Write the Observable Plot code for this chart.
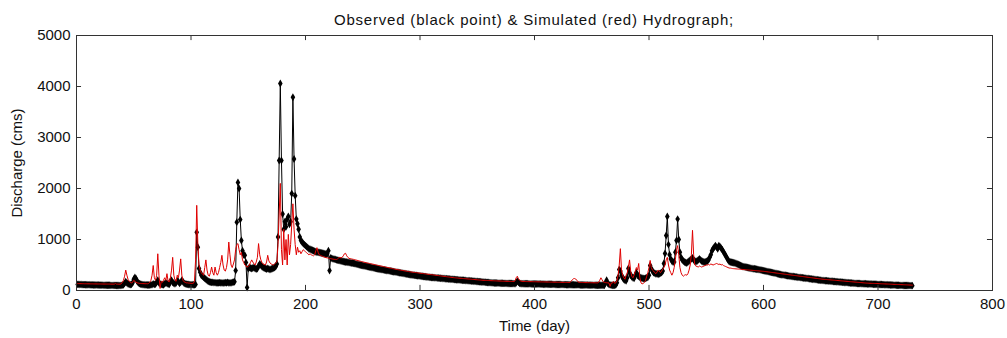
<!DOCTYPE html>
<html><head><meta charset="utf-8">
<script src="https://cdn.jsdelivr.net/npm/d3@7"></script>
<script src="https://cdn.jsdelivr.net/npm/@observablehq/plot@0.6"></script>
<style>
body{margin:0;background:#fff;font-family:"Liberation Sans",Arial,sans-serif;}
#title{width:1007px;height:28px;box-sizing:border-box;padding:11px 15px 0 76px;text-align:center;font-size:15px;line-height:17px;color:#111;white-space:nowrap;letter-spacing:0.8px;}
</style></head><body>
<div id="title">Observed (black point) &amp; Simulated (red) Hydrograph;</div>
<div id="chart"></div>
<script>
const startDay = 1;
const observed = [
120,120,118,117,116,115,115,114,113,112,
112,111,110,110,109,108,108,107,107,106,
106,105,105,104,104,103,103,102,102,101,
101,100,100,100,99,99,98,98,100,105,
110,140,170,150,130,120,115,120,150,220,
255,230,180,150,135,125,120,115,112,110,
110,108,107,106,110,115,130,120,125,160,
200,150,130,120,115,112,130,150,140,125,
120,180,200,160,140,130,150,190,170,140,
160,200,170,140,130,125,120,118,116,115,
115,114,113,120,1140,850,430,360,300,280,
260,240,220,200,180,170,165,160,160,155,
155,150,150,150,155,150,150,148,150,155,
150,160,150,150,150,160,165,170,390,1340,
2120,2000,1390,980,780,700,690,550,60,430,
450,440,430,440,450,430,420,430,480,520,
500,470,450,440,430,420,430,420,410,420,
430,440,450,470,520,1050,2550,4060,2550,1500,
1200,1350,1250,1400,1450,1300,1350,1900,3790,2580,
1860,1400,1310,1200,1050,980,950,920,900,880,
860,840,820,810,800,790,780,770,760,750,
750,745,740,735,730,725,720,710,720,780,
390,640,630,620,615,610,600,595,590,585,
580,575,570,565,560,560,555,550,545,540,
540,534,528,522,516,510,505,500,495,490,
485,480,475,470,465,460,455,450,445,440,
435,430,425,421,417,413,409,405,401,397,
393,389,385,381,377,373,369,365,361,357,
353,349,345,341,337,333,329,325,321,317,
313,309,305,302,299,296,293,290,287,284,
281,278,275,272,269,266,263,260,258,256,
254,252,250,248,246,244,242,240,238,236,
234,232,230,228,226,224,222,220,218,216,
214,212,210,208,206,204,202,200,198,196,
194,192,190,188,186,184,182,180,178,176,
174,172,170,168,166,164,162,160,158,156,
154,152,150,149,148,147,146,145,144,143,
142,141,140,140,139,138,138,137,136,136,
135,135,134,150,180,160,140,135,134,133,
132,132,131,131,130,130,129,129,128,128,
128,127,127,126,126,125,125,124,124,123,
123,122,122,121,121,120,120,119,119,118,
118,117,117,116,116,115,115,114,114,113,
113,112,112,112,111,111,110,110,110,109,
109,108,108,108,107,107,106,106,106,105,
105,105,104,104,104,103,103,103,102,102,
102,150,200,140,120,110,105,103,102,102,
110,150,250,410,380,300,250,220,200,190,
250,430,350,300,270,250,240,300,350,300,
280,260,250,240,235,230,240,250,260,300,
490,430,380,350,340,330,330,320,330,340,
350,380,530,725,1080,1450,900,700,620,580,
560,560,750,980,1400,1000,750,650,600,580,
560,550,540,560,580,600,620,640,600,580,
570,580,600,620,600,580,570,560,560,570,
580,600,650,700,780,820,850,880,850,820,
880,860,830,800,760,720,680,640,600,570,
560,555,550,545,540,530,520,510,500,490,
480,470,465,460,455,450,445,440,435,430,
428,425,422,418,414,410,405,400,395,390,
385,380,375,370,365,360,355,350,345,340,
335,330,325,320,315,310,306,302,298,294,
290,286,282,279,276,273,270,267,264,261,
258,255,252,249,246,243,240,237,234,231,
228,225,222,219,216,213,210,207,204,201,
198,196,194,192,190,188,186,184,182,180,
178,176,174,172,170,168,166,164,162,160,
158,156,154,152,150,148,146,144,142,140,
139,138,137,136,135,134,133,132,131,130,
129,128,127,126,125,124,123,122,121,120,
119,118,117,116,115,114,113,112,111,110,
109,108,107,106,105,104,103,102,101,100,
100,99,99,98,98,97,97,96,96,95
];
const simulated = [
135,135,134,134,133,133,132,132,131,131,
131,130,130,130,129,129,129,128,128,128,
128,127,127,127,127,126,126,126,126,125,
125,125,125,140,125,125,124,124,130,160,
200,280,400,300,220,180,160,150,160,200,
180,160,150,145,140,138,136,135,134,133,
133,132,140,160,200,300,490,250,200,300,
720,300,40,180,160,200,250,200,330,180,
170,250,400,650,300,200,180,300,250,400,
620,300,200,170,160,150,150,145,145,140,
140,140,180,600,1670,900,500,400,350,320,
300,450,600,400,300,280,350,460,350,300,
460,350,300,350,450,550,690,500,400,380,
450,600,950,700,500,450,520,600,800,900,
920,800,700,750,600,550,500,480,460,470,
500,550,600,560,520,500,560,650,920,700,
600,550,520,510,500,560,690,580,540,520,
510,500,520,540,560,900,1500,2100,800,500,
1200,600,1000,500,1100,700,900,1300,1700,1200,
900,700,850,750,780,720,760,800,780,760,
740,720,700,720,700,690,680,700,780,840,
750,700,690,680,670,660,650,645,640,635,
630,625,620,615,612,610,608,620,640,650,
640,650,680,720,730,680,650,630,625,620,
615,610,604,598,592,586,580,574,568,562,
556,550,545,540,535,530,525,520,515,510,
505,500,495,490,485,480,475,470,465,460,
455,450,445,440,435,430,425,420,415,411,
407,403,399,395,391,387,383,379,375,371,
367,364,361,358,355,352,349,346,343,340,
337,334,331,328,325,322,319,316,313,310,
307,304,301,298,295,292,289,286,283,280,
277,274,271,268,265,262,259,256,253,250,
248,246,244,242,240,238,236,234,232,230,
228,226,224,222,220,218,216,214,212,210,
208,206,204,202,200,199,198,197,196,195,
194,193,192,191,190,189,188,187,186,185,
184,183,182,181,180,180,179,178,178,177,
177,176,190,250,280,230,200,185,180,178,
177,176,175,175,174,174,173,173,172,172,
171,171,170,170,169,169,168,168,167,167,
166,166,165,165,164,164,163,163,162,162,
161,161,160,160,159,159,158,158,157,157,
160,180,210,230,235,225,200,170,160,158,
157,156,156,155,155,154,154,153,153,152,
152,151,151,150,150,160,200,250,210,170,
160,155,152,150,148,80,146,145,180,140,
150,200,300,500,820,400,300,250,220,300,
350,450,600,380,280,250,300,380,450,400,
530,250,150,130,140,160,200,280,350,450,
590,450,400,380,350,330,360,400,380,350,
380,420,450,500,600,650,500,400,350,300,
350,450,600,800,880,700,450,350,300,280,
300,310,300,330,400,500,700,1180,700,500,
480,470,460,480,470,460,470,480,490,500,
500,510,500,520,510,500,510,520,530,520,
510,520,500,510,490,480,470,460,450,440,
440,435,430,428,426,424,422,420,418,416,
414,412,410,408,406,404,402,400,398,396,
394,392,390,388,386,384,382,380,378,376,
373,370,367,364,361,358,355,352,349,346,
343,340,337,334,331,328,325,322,319,316,
313,310,307,304,301,298,295,292,289,286,
283,280,277,274,271,268,265,262,259,256,
253,250,247,244,241,238,235,232,229,226,
223,221,219,217,215,213,211,209,207,205,
203,201,199,197,195,193,191,189,187,185,
183,181,179,177,175,173,171,169,167,165,
163,161,159,157,155,153,151,149,147,145,
144,143,142,141,140,139,138,137,136,135,
134,133,132,131,130,129,128,127,126,125,
124,123,122,121,120,119,118,117,116,115,
114,113,112,111,110,109,108,107,106,105
];
const xTicks = [0,100,200,300,400,500,600,700,800];
const yTicks = [0,1000,2000,3000,4000,5000];

const obsData = observed.map((q, i) => ({day: startDay + i, q}));
const simData = simulated.map((q, i) => ({day: startDay + i, q}));

const chart = Plot.plot({
  width: 1007, height: 310,
  marginTop: 7, marginBottom: 48, marginLeft: 76, marginRight: 15,
  style: {fontFamily: "Liberation Sans, Arial, sans-serif", fontSize: "15px", color: "#111", background: "#fff", overflow: "visible"},
  x: {domain: [0, 800]},
  y: {domain: [0, 5000]},
  marks: [
    Plot.axisX(xTicks, {tickSize: 0, tickPadding: 8, tickFormat: d => String(d), label: "Time (day)", labelAnchor: "center", labelArrow: "none", labelOffset: 40}),
    Plot.axisY(yTicks, {tickSize: 0, tickPadding: 6, tickFormat: d => String(d), label: "Discharge (cms)", labelAnchor: "center", labelArrow: "none", labelOffset: 65}),
    Plot.line(obsData, {x: "day", y: "q", stroke: "#000", strokeWidth: 1}),
    Plot.dot(obsData, {x: "day", y: "q", symbol: "diamond", r: 2.4, fill: "#000", stroke: null}),
    Plot.line(simData, {x: "day", y: "q", stroke: "#e00000", strokeWidth: 1}),
    Plot.ruleX(xTicks, {x: d => d, y1: 0, y2: 100, stroke: "#333"}),
    Plot.ruleX(xTicks, {x: d => d, y1: 4900, y2: 5000, stroke: "#333"}),
    Plot.ruleY(yTicks, {y: d => d, x1: 0, x2: 4.4, stroke: "#333"}),
    Plot.ruleY(yTicks, {y: d => d, x1: 795.6, x2: 800, stroke: "#333"}),
    Plot.frame({stroke: "#333"})
  ]
});
document.getElementById("chart").appendChild(chart);
</script>
</body></html>
